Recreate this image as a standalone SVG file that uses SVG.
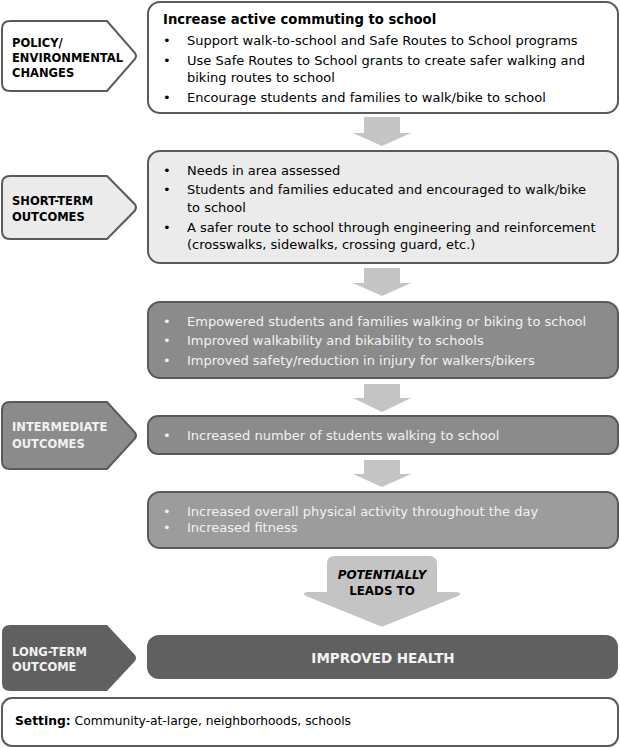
<svg xmlns="http://www.w3.org/2000/svg" width="620" height="748" viewBox="0 0 620 748">
<style>
text{font-family:"DejaVu Sans","Verdana",sans-serif}
.lbl{font-size:11.5px;font-weight:bold}
.t{font-size:13px;fill:#000}
.tw{font-size:13px;fill:#f2f2f2}
.h{font-size:13.2px;font-weight:bold}
.box{stroke:#5a5a5a;stroke-width:2}
.arr{fill:#c4c4c4}
</style>
<rect width="620" height="748" fill="#fff"/>
<g id="connectors">
<path class="arr" d="M364 117 H400 V133 H411 L382 146 L353 133 H364 Z"/>
<path class="arr" d="M364 268 H400 V283 H411 L382 296 L353 283 H364 Z"/>
<path class="arr" d="M364 384 H400 V398 H411 L382 412 L353 398 H364 Z"/>
<path class="arr" d="M364 460 H400 V474 H411 L382 487 L353 474 H364 Z"/>
<g id="potentially">
<path class="arr" d="M327 564 Q327 556 335 556 H429 Q437 556 437 564 V592 H457 Q463 593 458 596 L384 626 Q382 627 380 626 L306 596 Q301 593 307 592 H327 Z"/>
<text x="382" y="579" text-anchor="middle" style="font-size:11.9px;font-weight:bold;font-style:italic">POTENTIALLY</text>
<text x="382" y="595" text-anchor="middle" style="font-size:11.9px;font-weight:bold">LEADS TO</text>
</g>
</g>
<g id="label-policy">
<path class="box" fill="#fff" d="M10 21 H107 L135 53 Q137 56 135 59 L107 91 H10 Q2 91 2 83 V29 Q2 21 10 21 Z"/>
<text class="lbl" x="12" y="46.5">POLICY/</text>
<text class="lbl" x="12" y="62">ENVIRONMENTAL</text>
<text class="lbl" x="12" y="77">CHANGES</text>
</g>
<g id="box-policy">
<rect class="box" x="148" y="2" width="470" height="111" rx="12" fill="#fff"/>
<text class="h" x="163" y="24">Increase active commuting to school</text>
<text class="t" x="163" y="45">•</text><text class="t" x="187" y="45">Support walk-to-school and Safe Routes to School programs</text>
<text class="t" x="163" y="65">•</text><text class="t" x="187" y="65">Use Safe Routes to School grants to create safer walking and</text>
<text class="t" x="187" y="82">biking routes to school</text>
<text class="t" x="163" y="102">•</text><text class="t" x="187" y="102">Encourage students and families to walk/bike to school</text>
</g>
<g id="label-short">
<path class="box" fill="#ebebeb" d="M10 176 H107 L135 204.5 Q137 207.5 135 210.5 L107 239 H10 Q2 239 2 231 V184 Q2 176 10 176 Z"/>
<text class="lbl" x="12" y="205">SHORT-TERM</text>
<text class="lbl" x="12" y="220.5">OUTCOMES</text>
</g>
<g id="box-short">
<rect class="box" x="148" y="151" width="470" height="112" rx="12" fill="#ebebeb"/>
<text class="t" x="163" y="175">•</text><text class="t" x="187" y="175">Needs in area assessed</text>
<text class="t" x="163" y="194">•</text><text class="t" x="187" y="194">Students and families educated and encouraged to walk/bike</text>
<text class="t" x="187" y="212">to school</text>
<text class="t" x="163" y="232">•</text><text class="t" x="187" y="232">A safer route to school through engineering and reinforcement</text>
<text class="t" x="187" y="249">(crosswalks, sidewalks, crossing guard, etc.)</text>
</g>
<g id="box-mid1">
<rect class="box" x="148" y="302" width="470" height="76" rx="12" fill="#8b8b8b"/>
<text class="tw" x="163" y="325.5">•</text><text class="tw" x="187" y="325.5">Empowered students and families walking or biking to school</text>
<text class="tw" x="163" y="345">•</text><text class="tw" x="187" y="345">Improved walkability and bikability to schools</text>
<text class="tw" x="163" y="364.5">•</text><text class="tw" x="187" y="364.5">Improved safety/reduction in injury for walkers/bikers</text>
</g>
<g id="label-intermediate">
<path class="box" fill="#8b8b8b" d="M10 402 H107 L135 432.5 Q137 435.5 135 438.5 L107 469 H10 Q2 469 2 461 V410 Q2 402 10 402 Z"/>
<text class="lbl" x="12" y="431" fill="#f2f2f2">INTERMEDIATE</text>
<text class="lbl" x="12" y="448" fill="#f2f2f2">OUTCOMES</text>
</g>
<g id="box-mid2">
<rect class="box" x="148" y="416" width="470" height="38" rx="10" fill="#8b8b8b"/>
<text class="tw" x="163" y="439.5">•</text><text class="tw" x="187" y="439.5">Increased number of students walking to school</text>
</g>
<g id="box-mid3">
<rect class="box" x="148" y="492" width="470" height="56" rx="12" fill="#9c9c9c"/>
<text class="tw" x="163" y="516">•</text><text class="tw" x="187" y="516">Increased overall physical activity throughout the day</text>
<text class="tw" x="163" y="532">•</text><text class="tw" x="187" y="532">Increased fitness</text>
</g>
<g id="label-long">
<path fill="#606060" d="M10 625 H107 L135 655 Q137 658 135 661 L107 691 H10 Q2 691 2 683 V633 Q2 625 10 625 Z"/>
<text class="lbl" x="12" y="656" fill="#f2f2f2">LONG-TERM</text>
<text class="lbl" x="12" y="671" fill="#f2f2f2">OUTCOME</text>
</g>
<g id="box-long">
<rect x="147" y="635" width="471" height="44" rx="12" fill="#606060"/>
<text x="383" y="663" text-anchor="middle" style="font-size:13.5px;font-weight:bold" fill="#f2f2f2">IMPROVED HEALTH</text>
</g>
<g id="setting">
<rect class="box" x="2" y="698" width="616" height="48" rx="10" fill="#fff"/>
<text x="15" y="725" style="font-size:12.3px"><tspan font-weight="bold">Setting:</tspan> Community-at-large, neighborhoods, schools</text>
</g>
</svg>
